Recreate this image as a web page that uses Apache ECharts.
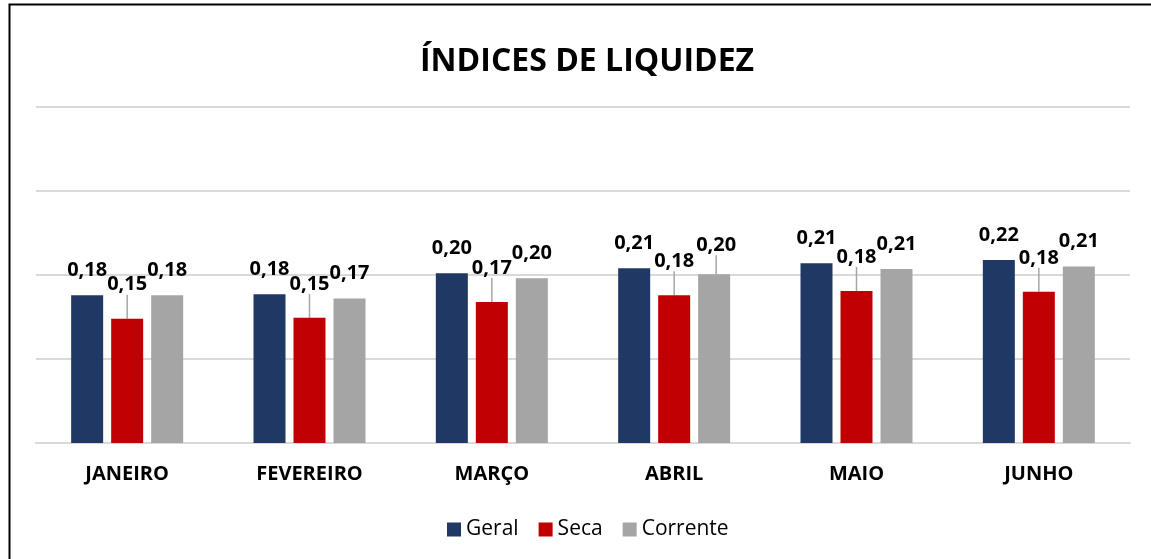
<!DOCTYPE html>
<html>
<head>
<meta charset="utf-8">
<script src="https://cdn.jsdelivr.net/npm/echarts@6/dist/echarts.min.js"></script>
<style>
  html, body { margin: 0; padding: 0; background: #fff; }
  #chart { width: 1151px; height: 559px; }
</style>
</head>
<body>
<div id="chart"></div>
<script>
const titleText = 'ÍNDICES DE LIQUIDEZ';
const categories = ['JANEIRO', 'FEVEREIRO', 'MARÇO', 'ABRIL', 'MAIO', 'JUNHO'];
const seriesNames = ['Geral', 'Seca', 'Corrente'];
const geral = [0.176, 0.177, 0.202, 0.208, 0.214, 0.218];
const seca = [0.148, 0.149, 0.168, 0.176, 0.181, 0.180];
const corrente = [0.176, 0.172, 0.196, 0.201, 0.207, 0.210];
const axisMin = 0, axisMax = 0.4, axisInterval = 0.1;

const FONT = '"Open Sans", "Noto Sans", sans-serif';
const fmt = p => p.value.toFixed(2).replace('.', ',');
const leader = { show: true, lineStyle: { color: '#A6A6A6', width: 1.5 } };

const chart = echarts.init(document.getElementById('chart'), null, { renderer: 'canvas' });

const baseLabel = {
  show: true, position: 'top', distance: 15,
  fontFamily: FONT, fontWeight: 'bold', fontSize: 20, color: '#000',
  formatter: fmt
};

chart.setOption({
  backgroundColor: '#fff',
  animation: false,
  graphic: [{
    type: 'rect', left: 7, top: 2, shape: { width: 1200, height: 600 },
    style: { fill: 'none', stroke: '#000', lineWidth: 2 }, silent: true, z: 100
  }],
  title: {
    text: titleText, left: 415, top: 41,
    textStyle: { fontFamily: FONT, fontWeight: 'bold', fontSize: 32, color: '#000' }
  },
  legend: {
    data: seriesNames, bottom: 14, left: 442,
    itemWidth: 14, itemHeight: 14, itemGap: 20, icon: 'rect',
    textStyle: { fontFamily: FONT, fontSize: 21, color: '#000' }
  },
  grid: { left: 36, right: 21, top: 107, bottom: 116, containLabel: false },
  xAxis: {
    type: 'category', data: categories,
    axisLine: { show: true, lineStyle: { color: '#D9D9D9', width: 2 } },
    axisTick: { show: false },
    axisLabel: { fontFamily: FONT, fontWeight: 'bold', fontSize: 20, color: '#000', margin: 21 }
  },
  yAxis: {
    type: 'value', min: axisMin, max: axisMax, interval: axisInterval,
    axisLabel: { show: false }, axisLine: { show: false }, axisTick: { show: false },
    splitLine: { lineStyle: { color: '#D9D9D9', width: 2 } }
  },
  series: [
    {
      name: seriesNames[0], type: 'bar', data: geral, barWidth: 32, barGap: '25%',
      itemStyle: { color: '#1F3864' }, label: baseLabel, labelLine: { show: false }
    },
    {
      name: seriesNames[1], type: 'bar', data: seca, barWidth: 32, barGap: '25%',
      itemStyle: { color: '#C00000' },
      label: Object.assign({}, baseLabel, { distance: 5 }),
      labelLayout: { dy: -19 },
      labelLine: leader
    },
    {
      name: seriesNames[2], type: 'bar', barWidth: 32, barGap: '25%',
      data: corrente.map((v, i) => i === 3
        ? { value: v, label: { distance: 8 }, labelLine: leader }
        : v),
      itemStyle: { color: '#A5A5A5' }, label: baseLabel, labelLine: { show: false },
      labelLayout: p => p.dataIndex === 3 ? { dx: 2, dy: -11 } : {}
    }
  ]
});
</script>
</body>
</html>
